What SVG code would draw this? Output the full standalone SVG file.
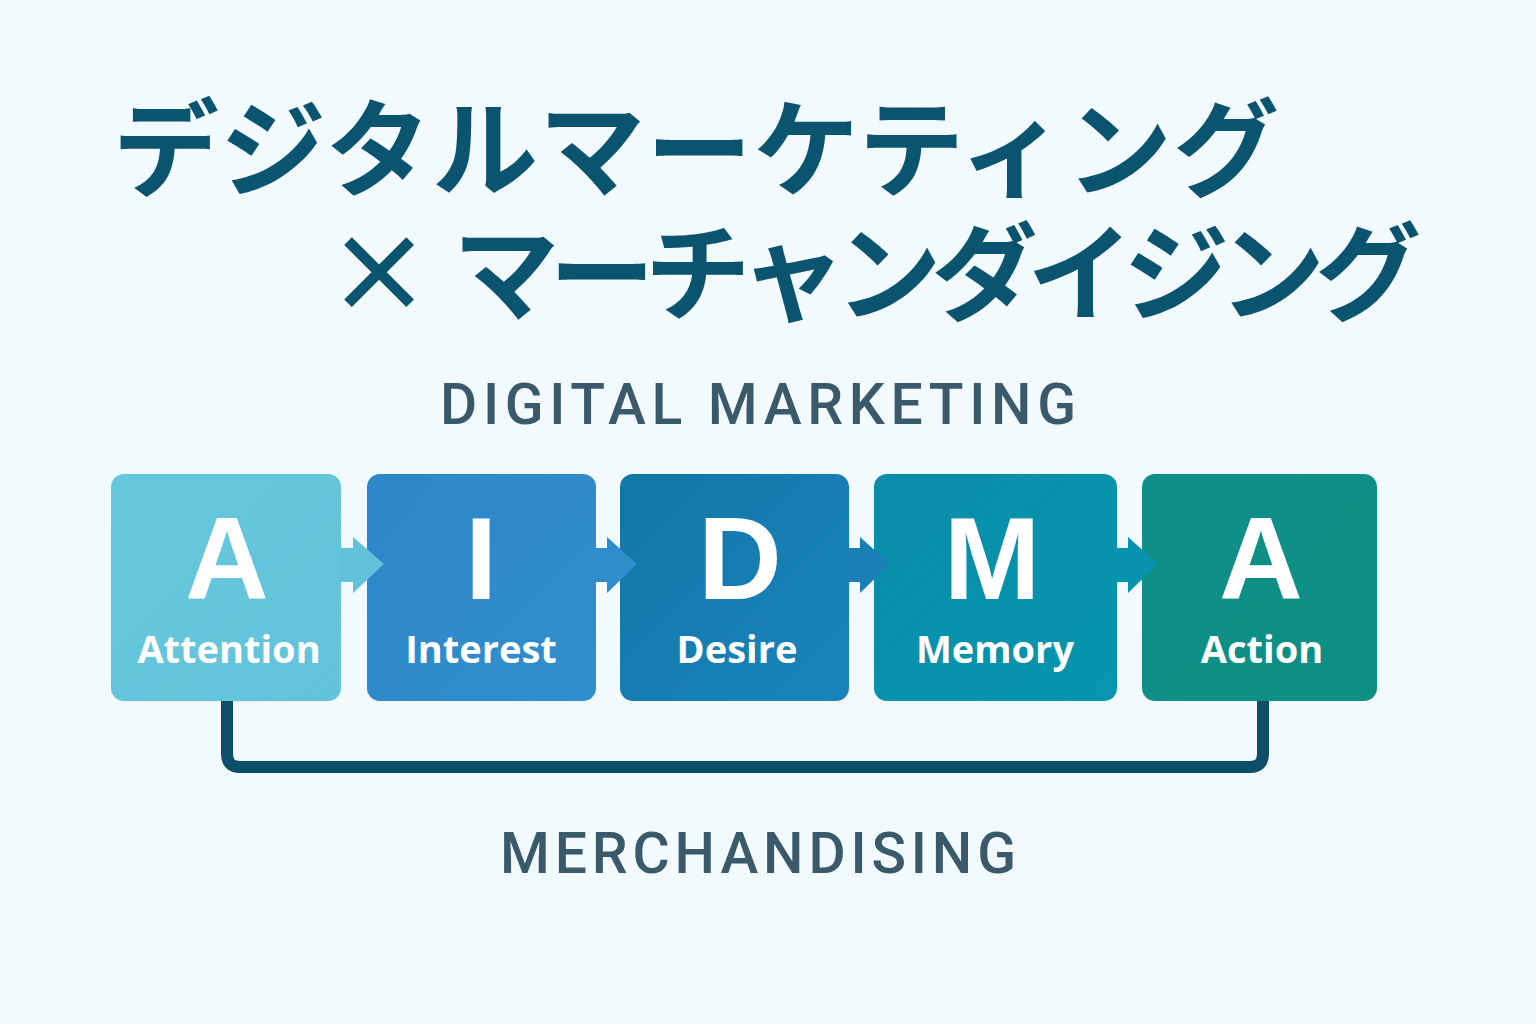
<svg xmlns="http://www.w3.org/2000/svg" width="1536" height="1024" viewBox="0 0 1536 1024">
<defs>
<style>
.title{font-family:"Noto Sans CJK JP","Noto Sans",sans-serif;font-weight:700;font-size:106px;fill:#0b5470}
.sub{font-family:Roboto,"Liberation Sans",sans-serif;font-weight:500;font-size:57px;fill:#3a5a6b}
.big{font-family:"Liberation Sans",Arial,sans-serif;font-weight:700;font-size:116px;fill:#fff;text-anchor:middle}
.lbl{font-family:"Open Sans","Noto Sans",sans-serif;font-weight:700;font-size:38px;fill:#fff;text-anchor:middle}
.conn{fill:none;stroke:#0d4f69;stroke-width:12;stroke-linejoin:round}
</style>
<linearGradient id="g1" x1="0" y1="0" x2="1" y2="1"><stop offset="0" stop-color="#67c7dd"/><stop offset="1" stop-color="#63c3da"/></linearGradient>
<linearGradient id="g2" x1="0" y1="0" x2="1" y2="1"><stop offset="0" stop-color="#2e86c8"/><stop offset="1" stop-color="#2f8fcf"/></linearGradient>
<linearGradient id="g3" x1="0" y1="0" x2="1" y2="1"><stop offset="0" stop-color="#1177a9"/><stop offset="1" stop-color="#1a84bb"/></linearGradient>
<linearGradient id="g4" x1="0" y1="0" x2="1" y2="1"><stop offset="0" stop-color="#0a8daa"/><stop offset="1" stop-color="#0696ad"/></linearGradient>
<linearGradient id="g5" x1="0" y1="0" x2="1" y2="1"><stop offset="0" stop-color="#108f88"/><stop offset="1" stop-color="#0d8f85"/></linearGradient>
</defs>
<rect width="1536" height="1024" fill="#f3fafd"/>
<text class="title" x="113" y="188" textLength="1166">デジタルマーケティング</text>
<text class="title" x="326" y="312">×</text>
<text class="title" x="453" y="312" textLength="968">マーチャンダイジング</text>
<text class="sub" x="440" y="424" textLength="636">DIGITAL MARKETING</text>

<g id="attention">
<rect x="111" y="474" width="230" height="227" rx="13" fill="url(#g1)"/>
<text class="big" x="227" y="599">A</text>
<text class="lbl" x="229" y="663">Attention</text>
</g>
<g id="interest">
<rect x="367" y="474" width="229" height="227" rx="13" fill="url(#g2)"/>
<text class="big" x="481" y="599">I</text>
<text class="lbl" x="481" y="663">Interest</text>
</g>
<g id="desire">
<rect x="620" y="474" width="229" height="227" rx="13" fill="url(#g3)"/>
<text class="big" x="740" y="599">D</text>
<text class="lbl" x="737" y="663">Desire</text>
</g>
<g id="memory">
<rect x="874" y="474" width="243" height="227" rx="13" fill="url(#g4)"/>
<text class="big" x="992" y="599">M</text>
<text class="lbl" x="995" y="663">Memory</text>
</g>
<g id="action">
<rect x="1142" y="474" width="235" height="227" rx="13" fill="url(#g5)"/>
<text class="big" x="1261" y="599">A</text>
<text class="lbl" x="1262" y="663">Action</text>
</g>

<g id="connectors">
<path class="conn" d="M227 701 V754 Q227 767 240 767 H1250 Q1263 767 1263 754 V701"/>
<path d="M340 548 H353 V537 L384 564 L353 593 V582 H340 Z" fill="#61c2da"/>
<path d="M595 548 H607 V537 L637 564 L607 593 V582 H595 Z" fill="#2f8dcd"/>
<path d="M848 548 H860 V537 L890 564 L860 593 V582 H848 Z" fill="#1a7fb5"/>
<path d="M1116 548 H1128 V537 L1158 564 L1128 593 V582 H1116 Z" fill="#0894ac"/>
</g>

<text class="sub" x="500" y="873" textLength="516">MERCHANDISING</text>
</svg>
